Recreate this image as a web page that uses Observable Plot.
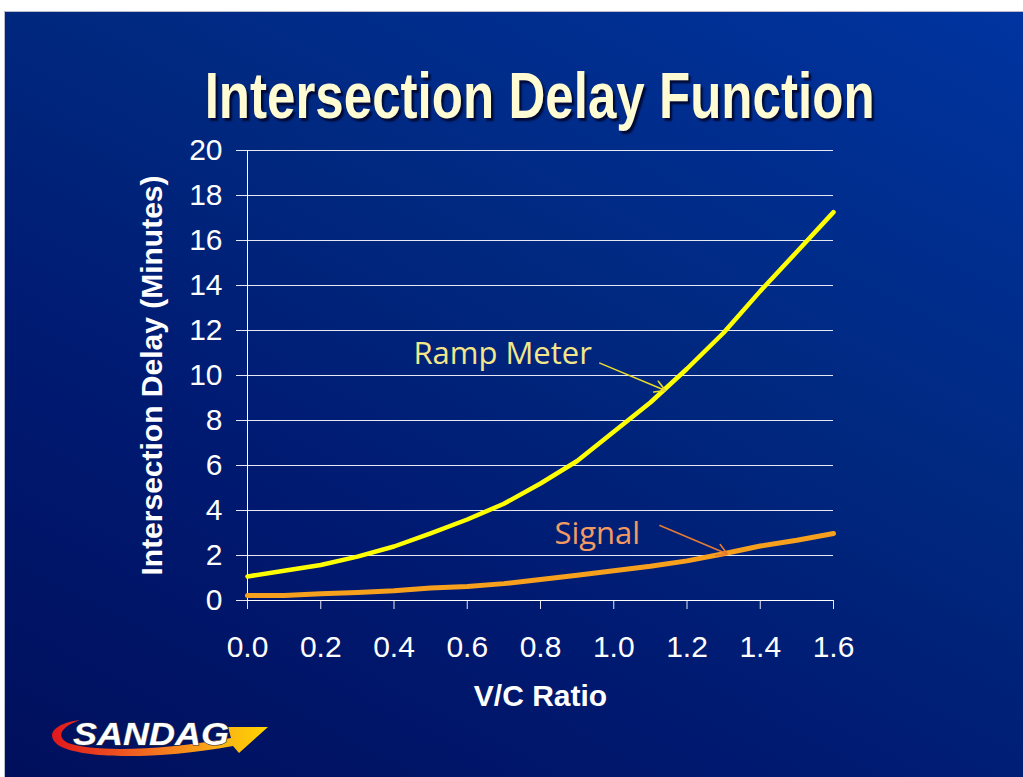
<!DOCTYPE html>
<html>
<head>
<meta charset="utf-8">
<script src="https://cdn.jsdelivr.net/npm/d3@7"></script>
<script src="https://cdn.jsdelivr.net/npm/@observablehq/plot@0.6"></script>
<style>
  html, body { margin: 0; padding: 0; background: #ffffff; }
  #page { position: relative; width: 1023px; height: 777px; overflow: hidden; background: #ffffff; }
  #slide {
    position: absolute; left: 4px; top: 11px; width: 1019px; height: 766px;
    background: linear-gradient(28deg, #000f5c 0%, #001a72 35%, #00287f 60%, #0034a0 100%);
    border-left: 1px solid #b8bccc; border-top: 1px solid #b8bccc;
  }
  #chart { position: absolute; left: 0; top: 0; }
  #title {
    position: absolute; left: 0; top: 64px; width: 1080px; text-align: center;
    font-family: "Liberation Sans Narrow", "Arial Narrow", "Liberation Sans", Arial, sans-serif;
    font-weight: bold; font-size: 64px; line-height: 64px; color: #fffbd2;
    text-shadow: 3px 3px 2px rgba(0, 5, 40, 0.85);
    white-space: nowrap;
  }
  #title span { display: inline-block; transform-origin: 50% 50%; }
  #logo { position: absolute; left: 0; top: 690px; }
</style>
</head>
<body>
<div id="page">
  <div id="slide"></div>
  <div id="chart"></div>
  <div id="title"><span id="titleText">Intersection Delay Function</span></div>
  <svg id="logo" width="320" height="87" viewBox="0 690 320 87">
    <defs>
      <linearGradient id="sw" x1="50" y1="0" x2="268" y2="0" gradientUnits="userSpaceOnUse">
        <stop offset="0" stop-color="#e0161c"/>
        <stop offset="0.45" stop-color="#f36b21"/>
        <stop offset="0.8" stop-color="#fbb514"/>
        <stop offset="1" stop-color="#ffd400"/>
      </linearGradient>
    </defs>
    <path d="M 80 720 C 56 723 44 734 58 745 C 78 758 150 761 233 746 L 239 753 L 268 727 L 228 727 L 231 738 C 160 751 92 752 68 743 C 56 737 60 727 80 720 Z" fill="url(#sw)"/>
    <text x="151" y="745" text-anchor="middle" font-family="Liberation Sans, Arial, sans-serif" font-style="italic" font-weight="bold" font-size="31" textLength="156" lengthAdjust="spacingAndGlyphs" fill="#ffffff" stroke="#3a3a48" stroke-width="1.2" paint-order="stroke">SANDAG</text>
  </svg>
</div>
<script>
// ---- data ----
const vcRatio   = [0.0, 0.1, 0.2, 0.3, 0.4, 0.5, 0.6, 0.7, 0.8, 0.9, 1.0, 1.1, 1.2, 1.3, 1.4, 1.5, 1.6];
const rampMeter = [1.07, 1.32, 1.58, 1.95, 2.4, 2.98, 3.6, 4.3, 5.2, 6.2, 7.5, 8.8, 10.3, 11.9, 13.75, 15.5, 17.26];
const signal    = [0.22, 0.22, 0.3, 0.36, 0.43, 0.56, 0.62, 0.75, 0.93, 1.12, 1.32, 1.52, 1.76, 2.08, 2.42, 2.68, 2.98];
const xTicks = [0, 0.2, 0.4, 0.6, 0.8, 1.0, 1.2, 1.4, 1.6];
const yTicks = [0, 2, 4, 6, 8, 10, 12, 14, 16, 18, 20];
const seriesNames = ["Ramp Meter", "Signal"];
const labelX = [0.453, 0.838];
const labelY = [10.93, 2.96];
const arrowFrom = [[0.962, 10.55], [1.126, 3.33]];
const arrowTo   = [[1.141, 9.33], [1.31, 2.07]];

const rampRows = vcRatio.map((v, i) => ({vc: v, delay: rampMeter[i]}));
const signalRows = vcRatio.map((v, i) => ({vc: v, delay: signal[i]}));
const labels = seriesNames.map((s, i) => ({name: s, x: labelX[i], y: labelY[i]}));
const arrows = seriesNames.map((s, i) => ({name: s, x1: arrowFrom[i][0], y1: arrowFrom[i][1], x2: arrowTo[i][0], y2: arrowTo[i][1]}));

const textColor = {"Ramp Meter": "#f4e68a", "Signal": "#f29a62"};
const arrowColor = {"Ramp Meter": "#e9dc2a", "Signal": "#e57a32"};

const chart = Plot.plot({
  width: 1023,
  height: 777,
  marginLeft: 247,
  marginRight: 190,
  marginTop: 150,
  marginBottom: 177,
  style: {background: "transparent", color: "#ffffff", fontFamily: "'Liberation Sans', Arial, sans-serif", fontSize: "30px"},
  x: {domain: [0, 1.6]},
  y: {domain: [0, 20]},
  marks: [
    Plot.gridY(yTicks, {stroke: "#e6e8f4", strokeOpacity: 1, strokeWidth: 1}),
    Plot.axisY(yTicks, {tickSize: 11, tickPadding: 14, stroke: "#e6e8f4", fill: "#ffffff", fontSize: 30, label: null, tickFormat: d => String(d)}),
    Plot.axisX(xTicks, {tickSize: 9, tickPadding: 26, stroke: "#e6e8f4", fill: "#ffffff", fontSize: 30, label: null, tickFormat: d3.format(".1f")}),
    Plot.ruleX([0], {stroke: "#ffffff", strokeWidth: 1}),
    Plot.ruleY([0], {stroke: "#ffffff", strokeWidth: 1}),
    Plot.line(signalRows, {x: "vc", y: "delay", stroke: "#f6a01e", strokeWidth: 5, strokeLinejoin: "round", strokeLinecap: "round"}),
    Plot.line(rampRows, {x: "vc", y: "delay", stroke: "#ffff00", strokeWidth: 4.5, strokeLinejoin: "round", strokeLinecap: "round"}),
    Plot.arrow(arrows, {x1: "x1", y1: "y1", x2: "x2", y2: "y2", stroke: d => arrowColor[d.name], strokeWidth: 1.6, headLength: 11}),
    Plot.text(labels, {x: "x", y: "y", text: "name", fill: d => textColor[d.name], textAnchor: "start", fontSize: 31, fontFamily: "'Open Sans', 'Noto Sans', sans-serif"}),
    Plot.text(["Intersection Delay (Minutes)"], {frameAnchor: "left", textAnchor: "middle", dx: -95, rotate: -90, fontWeight: "bold", fontSize: 30, fill: "#ffffff"}),
    Plot.text(["V/C Ratio"], {frameAnchor: "bottom", dy: 105, fontWeight: "bold", fontSize: 30, fill: "#ffffff"})
  ]
});
document.getElementById("chart").appendChild(chart);

// fit title to the reference width if no narrow face is installed
const t = document.getElementById("titleText");
const w = t.getBoundingClientRect().width;
if (w > 690) t.style.transform = `scaleX(${670 / w})`;
</script>
</body>
</html>
